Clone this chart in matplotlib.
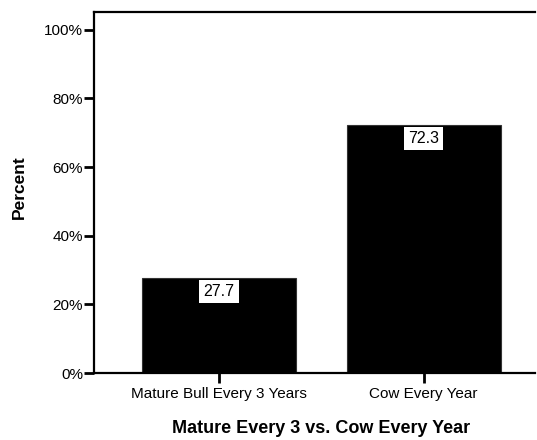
import matplotlib
matplotlib.use("Agg")
import matplotlib.pyplot as plt
from matplotlib.ticker import FuncFormatter

categories = ['Mature Bull Every 3 Years', 'Cow Every Year']
percents = [27.7, 72.3]
yticks = [0, 20, 40, 60, 80, 100]

plt.rcParams['font.family'] = ['Liberation Sans', 'DejaVu Sans']

fig = plt.figure(figsize=[5.37, 4.4], dpi=100)
ax = fig.add_axes([94/537, 1-373/440, (535-94)/537, (373-12)/440])

x = range(len(categories))
ax.bar(x, percents, width=0.753, color='black', edgecolor='#333333', linewidth=0.8)
for xi, v in zip(x, percents):
    ax.annotate('%.1f' % v, xy=(xi, v), xytext=(0, -4.3), textcoords='offset points',
                ha='center', va='top', fontsize=11.5,
                bbox=dict(boxstyle='square,pad=0.27', facecolor='white', edgecolor='none'))

ax.set_xlim(-0.611, 1.545)
ax.set_ylim(0, 105.2)
ax.set_xticks(list(x))
ax.set_xticklabels(categories, fontsize=11)
ax.set_yticks(yticks)
ax.yaxis.set_major_formatter(FuncFormatter(lambda v, p: '%d%%' % v))
ax.tick_params(axis='y', labelsize=11, length=7, width=2, direction='out', pad=1)
ax.tick_params(axis='x', length=7, width=2, direction='out', pad=3)
ax.spines['right'].set_visible(False)
for s in ['left', 'bottom', 'top']:
    ax.spines[s].set_linewidth(1.6)

# axis titles placed where the reference has them
fig.text(321/537, 1-428/440, 'Mature Every 3 vs. Cow Every Year', fontsize=13,
         fontweight='bold', ha='center', va='center')
fig.text(19/537, 1-187/440, 'Percent', fontsize=12.5, fontweight='bold',
         rotation=90, ha='center', va='center')

fig.savefig('out.png', dpi=100)
